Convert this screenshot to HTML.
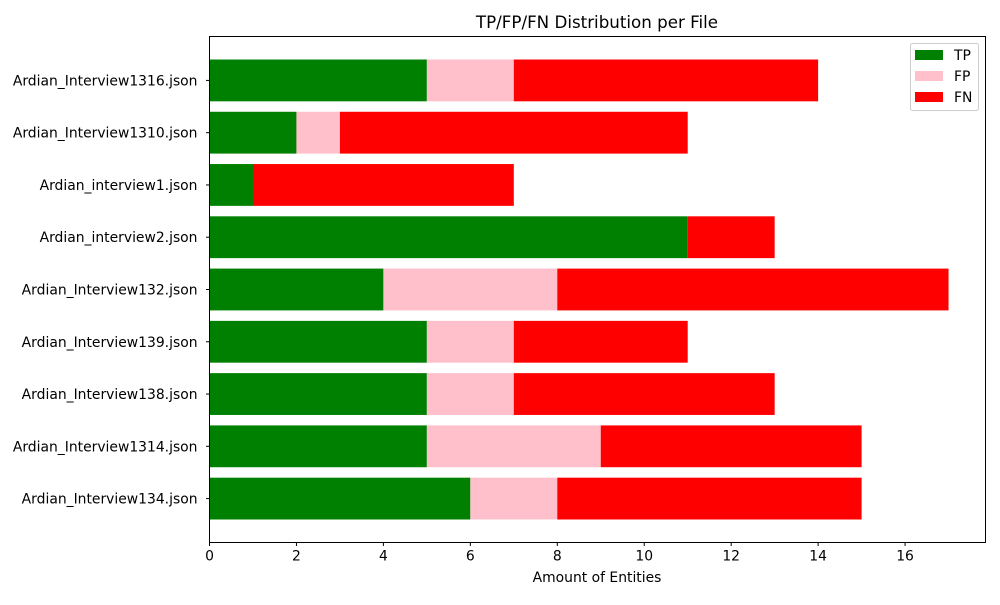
<!DOCTYPE html>
<html><head><meta charset="utf-8"><style>
body{margin:0;background:#fff;font-family:"Liberation Sans","DejaVu Sans",sans-serif}
svg text{font-family:"DejaVu Sans","Liberation Sans",sans-serif;fill:#000}
</style></head><body>
<svg id="chart" width="1000" height="600" xmlns="http://www.w3.org/2000/svg">
<rect width="1000" height="600" fill="#fff"/>
<text x="597" y="28" font-size="16.7" text-anchor="middle">TP/FP/FN Distribution per File</text>
<g id="bars"></g>
<g id="yticks"></g>
<g id="xticks"></g>
<rect x="209.5" y="36.5" width="776" height="506" fill="none" stroke="#000" stroke-width="1"/>
<text x="597" y="582" font-size="13.9" text-anchor="middle">Amount of Entities</text>
<g>
<rect x="910.5" y="43.5" width="68" height="67" rx="2" fill="#fff" fill-opacity="0.8" stroke="#ccc"/>
<rect x="915" y="50" width="28" height="10" fill="green"/>
<text x="954" y="60" font-size="13.9">TP</text>
<rect x="915" y="71" width="28" height="10" fill="pink"/>
<text x="954" y="81" font-size="13.9">FP</text>
<rect x="915" y="92" width="28" height="10" fill="red"/>
<text x="954" y="102" font-size="13.9">FN</text>
</g>
</svg>
<script>
const categories=["Ardian_Interview134.json","Ardian_Interview1314.json","Ardian_Interview138.json","Ardian_Interview139.json","Ardian_Interview132.json","Ardian_interview2.json","Ardian_interview1.json","Ardian_Interview1310.json","Ardian_Interview1316.json"];
const tp=[6,5,5,5,4,11,1,2,5];
const fp=[2,4,2,2,4,0,0,1,2];
const fn=[7,6,6,4,9,2,6,8,7];
const xTicks=[0,2,4,6,8,10,12,14,16];
const NS="http://www.w3.org/2000/svg";
const L=209.5,R=985.5,T=36.5,B=542.5;
let maxV=0;for(let i=0;i<categories.length;i++)maxV=Math.max(maxV,tp[i]+fp[i]+fn[i]);
const xMax=maxV*1.05;
const x=v=>L+v/xMax*(R-L);
const span=(categories.length-1+0.8)*1.1;const y0=-0.4-(span-(categories.length-1+0.8))/2;
const y=v=>B-(v-y0)/span*(B-T);
const unit=(B-T)/span;
const bars=document.getElementById('bars');
function mk(tag,attrs,parent){const e=document.createElementNS(NS,tag);for(const k in attrs)e.setAttribute(k,attrs[k]);parent.appendChild(e);return e;}
const series=[[tp,'green','tp'],[fp,'pink','fp'],[fn,'red','fn']];
categories.forEach((c,i)=>{
 let acc=0;
 series.forEach(([arr,col,nm])=>{
  const v=arr[i];
  if(v>0){
   const r=mk('rect',{x:x(acc),y:y(i)-0.4*unit,width:x(acc+v)-x(acc),height:0.8*unit,fill:col},bars);
   
   
  }
  acc+=v;
 });
 const yt=document.getElementById('yticks');
 mk('line',{x1:L-3.5,x2:L,y1:y(i),y2:y(i),stroke:'#000'},yt);
 const t=mk('text',{x:L-12,y:y(i)+5,'font-size':13.9,'text-anchor':'end'},yt);
 t.textContent=c;
 
 
});
const xt=document.getElementById('xticks');
xTicks.forEach(v=>{
 mk('line',{x1:x(v),x2:x(v),y1:B,y2:B+3.5,stroke:'#000'},xt);
 const t=mk('text',{x:x(v),y:B+18,'font-size':13.9,'text-anchor':'middle'},xt);
 t.textContent=v;
 
 
});
</script>
</body></html>
